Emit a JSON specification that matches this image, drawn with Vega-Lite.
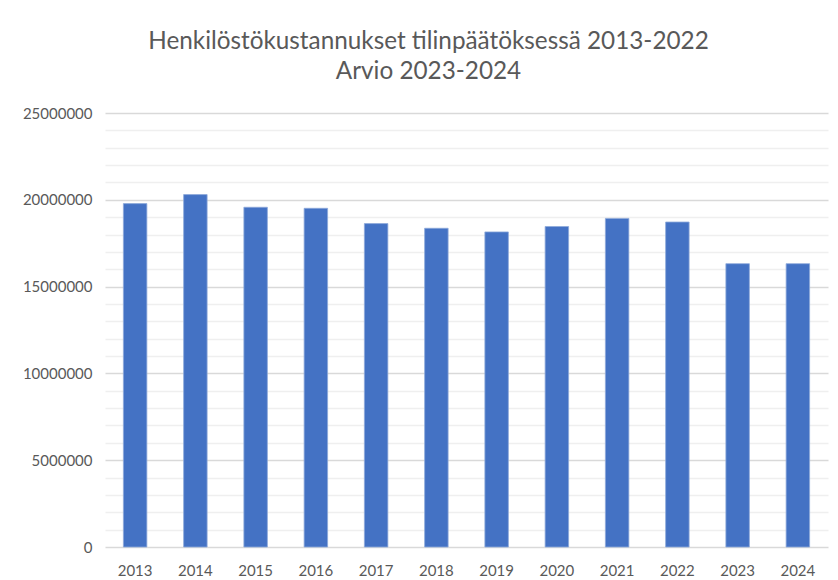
{
  "$schema": "https://vega.github.io/schema/vega-lite/v6.json",
  "width": 723,
  "height": 434,
  "autosize": {"type": "none"},
  "padding": {"left": 105, "top": 113, "right": 10, "bottom": 33},
  "background": "white",
  "title": {
    "text": ["Henkilöstökustannukset tilinpäätöksessä 2013-2022", "Arvio 2023-2024"],
    "font": "Lato",
    "fontSize": 24.3,
    "fontWeight": "normal",
    "color": "#595959",
    "lineHeight": 30,
    "anchor": "middle",
    "dx": -38,
    "offset": 22
  },
  "data": {
    "values": [
      {"year": "2013", "value": 19780000},
      {"year": "2014", "value": 20300000},
      {"year": "2015", "value": 19570000},
      {"year": "2016", "value": 19510000},
      {"year": "2017", "value": 18630000},
      {"year": "2018", "value": 18360000},
      {"year": "2019", "value": 18150000},
      {"year": "2020", "value": 18460000},
      {"year": "2021", "value": 18930000},
      {"year": "2022", "value": 18720000},
      {"year": "2023", "value": 16320000},
      {"year": "2024", "value": 16320000}
    ]
  },
  "layer": [
    {
      "mark": {"type": "bar", "opacity": 0},
      "encoding": {
        "x": {"field": "year", "type": "ordinal", "title": null,
              "scale": {"paddingInner": 0.61, "paddingOuter": 0.305},
              "axis": {"labelAngle": 0, "ticks": false, "domain": false, "labelPadding": 16,
                       "labelFont": "Lato", "labelFontSize": 15, "labelColor": "#595959"}},
        "y": {"field": "value", "type": "quantitative", "title": null,
              "scale": {"domain": [0, 25000000], "nice": false},
              "axis": {"orient": "left", "labels": false, "ticks": false, "domain": false,
                       "grid": true, "gridColor": "#efefef", "gridWidth": 1.3,
                       "values": [1000000, 2000000, 3000000, 4000000, 6000000, 7000000, 8000000, 9000000, 11000000, 12000000, 13000000, 14000000, 16000000, 17000000, 18000000, 19000000, 21000000, 22000000, 23000000, 24000000]}}
      }
    },
    {
      "mark": {"type": "bar", "color": "#4472C4", "stroke": "#8eaadb", "strokeWidth": 0.8},
      "encoding": {
        "x": {"field": "year", "type": "ordinal", "title": null,
              "axis": {"labelAngle": 0, "ticks": false, "domain": false, "labelPadding": 16,
                       "labelFont": "Lato", "labelFontSize": 15, "labelColor": "#595959"}},
        "y": {"field": "value", "type": "quantitative", "title": null,
              "axis": {"orient": "left", "values": [0, 5000000, 10000000, 15000000, 20000000, 25000000],
                       "format": "d", "ticks": false, "domain": false, "labelPadding": 13,
                       "grid": true, "gridColor": "#d9d9d9", "gridWidth": 1.5,
                       "labelFont": "Lato", "labelFontSize": 15, "labelColor": "#595959"}}
      }
    }
  ],
  "resolve": {"axis": {"y": "independent"}},
  "config": {"view": {"stroke": null}}
}
